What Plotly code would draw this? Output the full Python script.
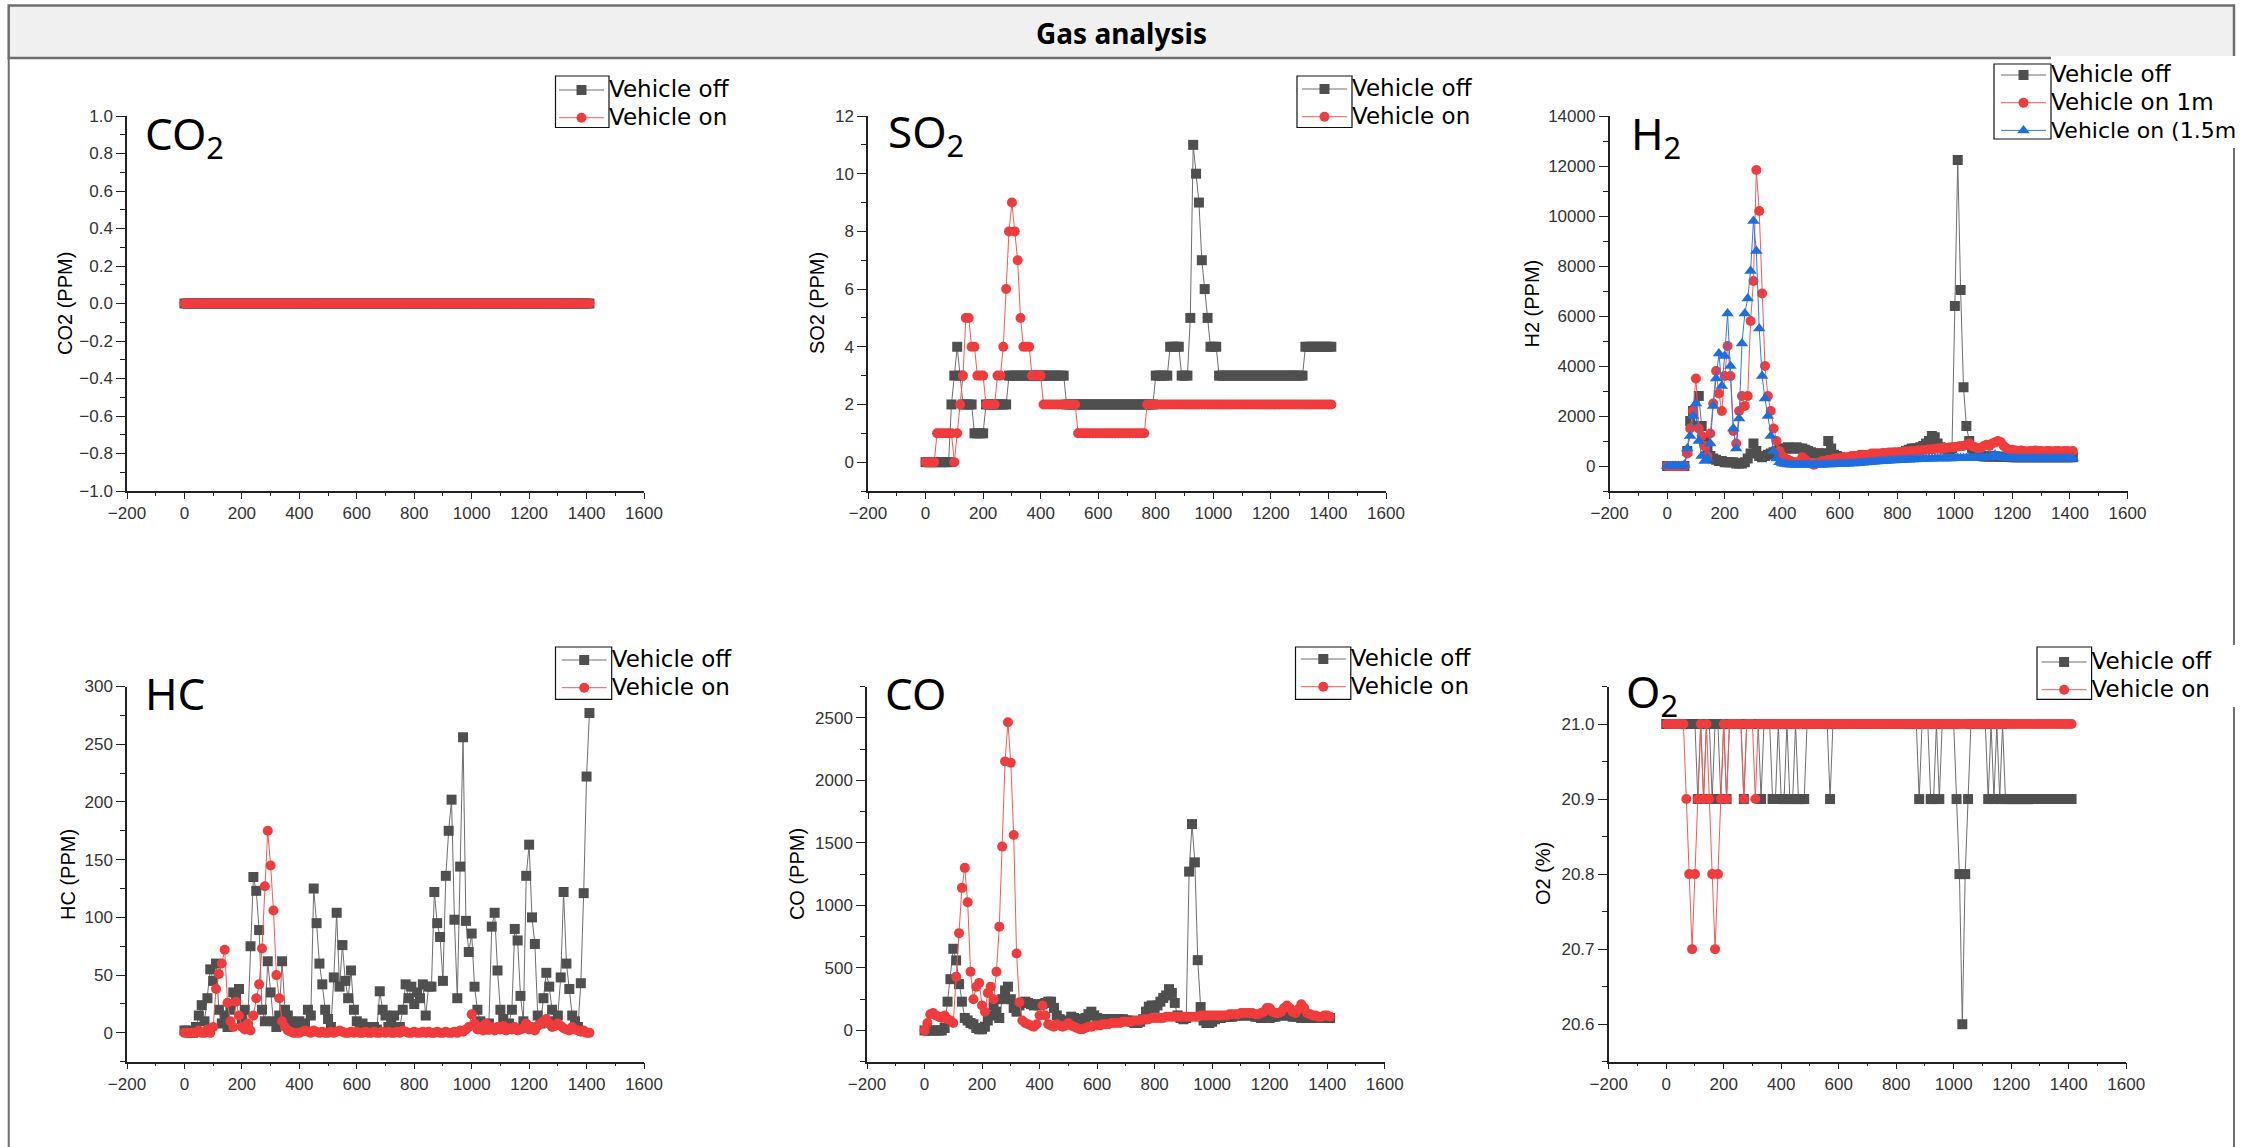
import plotly.graph_objects as go

W, H = 2244, 1147

# ---------------- data (sampled every 10 s, 0 .. 1410 s) ----------------
TIME = list(range(0, 1420, 10))

CO2_OFF = [
    0, 0, 0, 0, 0, 0, 0, 0, 0, 0,
    0, 0, 0, 0, 0, 0, 0, 0, 0, 0,
    0, 0, 0, 0, 0, 0, 0, 0, 0, 0,
    0, 0, 0, 0, 0, 0, 0, 0, 0, 0,
    0, 0, 0, 0, 0, 0, 0, 0, 0, 0,
    0, 0, 0, 0, 0, 0, 0, 0, 0, 0,
    0, 0, 0, 0, 0, 0, 0, 0, 0, 0,
    0, 0, 0, 0, 0, 0, 0, 0, 0, 0,
    0, 0, 0, 0, 0, 0, 0, 0, 0, 0,
    0, 0, 0, 0, 0, 0, 0, 0, 0, 0,
    0, 0, 0, 0, 0, 0, 0, 0, 0, 0,
    0, 0, 0, 0, 0, 0, 0, 0, 0, 0,
    0, 0, 0, 0, 0, 0, 0, 0, 0, 0,
    0, 0, 0, 0, 0, 0, 0, 0, 0, 0,
    0, 0]
CO2_ON = [
    0, 0, 0, 0, 0, 0, 0, 0, 0, 0,
    0, 0, 0, 0, 0, 0, 0, 0, 0, 0,
    0, 0, 0, 0, 0, 0, 0, 0, 0, 0,
    0, 0, 0, 0, 0, 0, 0, 0, 0, 0,
    0, 0, 0, 0, 0, 0, 0, 0, 0, 0,
    0, 0, 0, 0, 0, 0, 0, 0, 0, 0,
    0, 0, 0, 0, 0, 0, 0, 0, 0, 0,
    0, 0, 0, 0, 0, 0, 0, 0, 0, 0,
    0, 0, 0, 0, 0, 0, 0, 0, 0, 0,
    0, 0, 0, 0, 0, 0, 0, 0, 0, 0,
    0, 0, 0, 0, 0, 0, 0, 0, 0, 0,
    0, 0, 0, 0, 0, 0, 0, 0, 0, 0,
    0, 0, 0, 0, 0, 0, 0, 0, 0, 0,
    0, 0, 0, 0, 0, 0, 0, 0, 0, 0,
    0, 0]

SO2_OFF = [
    0, 0, 0, 0, 0, 0, 0, 0, 0, 2,
    3, 4, 3, 2, 2, 2, 2, 1, 1, 1,
    1, 2, 2, 2, 2, 2, 2, 2, 2, 3,
    3, 3, 3, 3, 3, 3, 3, 3, 3, 3,
    3, 3, 3, 3, 3, 3, 3, 3, 3, 2,
    2, 2, 2, 2, 2, 2, 2, 2, 2, 2,
    2, 2, 2, 2, 2, 2, 2, 2, 2, 2,
    2, 2, 2, 2, 2, 2, 2, 2, 2, 2,
    3, 3, 3, 3, 3, 4, 4, 4, 4, 3,
    3, 3, 5, 11, 10, 9, 7, 6, 5, 4,
    4, 4, 3, 3, 3, 3, 3, 3, 3, 3,
    3, 3, 3, 3, 3, 3, 3, 3, 3, 3,
    3, 3, 3, 3, 3, 3, 3, 3, 3, 3,
    3, 3, 4, 4, 4, 4, 4, 4, 4, 4,
    4, 4]
SO2_ON = [
    0, 0, 0, 0, 1, 1, 1, 1, 1, 1,
    0, 1, 2, 3, 5, 5, 4, 4, 3, 3,
    3, 2, 2, 2, 2, 3, 3, 4, 6, 8,
    9, 8, 7, 5, 4, 4, 4, 3, 3, 3,
    3, 2, 2, 2, 2, 2, 2, 2, 2, 2,
    2, 2, 2, 1, 1, 1, 1, 1, 1, 1,
    1, 1, 1, 1, 1, 1, 1, 1, 1, 1,
    1, 1, 1, 1, 1, 1, 1, 2, 2, 2,
    2, 2, 2, 2, 2, 2, 2, 2, 2, 2,
    2, 2, 2, 2, 2, 2, 2, 2, 2, 2,
    2, 2, 2, 2, 2, 2, 2, 2, 2, 2,
    2, 2, 2, 2, 2, 2, 2, 2, 2, 2,
    2, 2, 2, 2, 2, 2, 2, 2, 2, 2,
    2, 2, 2, 2, 2, 2, 2, 2, 2, 2,
    2, 2]

H2_OFF = [
    0, 0, 0, 0, 0, 0, 0, 600, 1800, 2200,
    1600, 2800, 1600, 1000, 600, 400, 300, 250, 200, 200,
    150, 150, 150, 150, 100, 100, 100, 150, 300, 500,
    900, 600, 400, 350, 400, 450, 500, 550, 600, 650,
    700, 700, 750, 700, 700, 750, 700, 700, 650, 600,
    550, 500, 500, 500, 500, 500, 1000, 700, 450, 400,
    350, 330, 320, 300, 300, 300, 300, 300, 300, 300,
    300, 300, 320, 320, 330, 340, 350, 350, 360, 380,
    450, 500, 550, 600, 650, 700, 700, 700, 750, 800,
    900, 1000, 1200, 1150, 900, 750, 700, 700, 650, 700,
    6400, 12240, 7040, 3150, 1600, 1000, 700, 550, 450, 400,
    380, 380, 380, 380, 380, 380, 360, 360, 360, 360,
    350, 350, 350, 350, 350, 350, 350, 350, 350, 350,
    350, 350, 350, 350, 350, 350, 350, 350, 350, 350,
    350, 350]
H2_ON_1M = [
    0, 0, 0, 0, 0, 0, 0, 500, 1500, 2200,
    3500, 1500, 1200, 800, 400, 1300, 2500, 3800, 2900, 2200,
    3600, 4800, 3600, 1400, 900, 2200, 2800, 2400, 2800, 5800,
    7400, 11840, 10200, 6900, 4000, 2800, 2200, 1500, 1000, 600,
    400, 300, 250, 200, 150, 150, 200, 350, 250, 150,
    100, 50, 100, 150, 200, 200, 250, 250, 300, 300,
    300, 350, 350, 350, 400, 400, 400, 450, 450, 450,
    450, 500, 500, 500, 500, 520, 520, 540, 540, 550,
    550, 560, 570, 580, 590, 600, 600, 620, 620, 640,
    650, 660, 670, 680, 700, 700, 720, 720, 740, 750,
    760, 780, 800, 800, 850, 900, 800, 750, 700, 720,
    800, 850, 800, 900, 950, 1000, 950, 800, 700, 650,
    650, 620, 600, 620, 600, 580, 600, 600, 620, 600,
    600, 580, 600, 600, 580, 600, 600, 580, 600, 600,
    580, 600]
H2_ON_15M = [
    0, 0, 0, 0, 0, 0, 50, 700, 1200, 2000,
    2500, 1000, 400, 200, 300, 900, 2400, 3500, 4500, 3200,
    4400, 6100, 4000, 1500, 700, 1900, 4900, 6100, 6700, 7800,
    9800, 8600, 5500, 3600, 2700, 2000, 1200, 600, 300, 150,
    100, 80, 60, 50, 50, 50, 50, 50, 50, 50,
    50, 50, 50, 50, 50, 60, 60, 60, 70, 70,
    80, 80, 90, 90, 100, 100, 110, 120, 130, 140,
    150, 160, 170, 180, 190, 200, 200, 210, 220, 220,
    230, 240, 240, 250, 250, 260, 260, 270, 270, 280,
    280, 290, 290, 300, 300, 300, 300, 300, 300, 300,
    320, 320, 320, 320, 320, 320, 320, 330, 330, 330,
    330, 340, 350, 400, 450, 400, 350, 330, 320, 320,
    300, 310, 300, 300, 310, 300, 300, 310, 300, 300,
    300, 310, 300, 300, 300, 310, 300, 300, 300, 300,
    300, 300]

HC_OFF = [
    2, 2, 0, 0, 5, 15, 24, 10, 30, 55,
    45, 60, 20, 8, 15, 5, 20, 35, 30, 38,
    12, 20, 5, 75, 135, 123, 89, 20, 10, 62,
    35, 10, 5, 15, 62, 20, 15, 10, 8, 5,
    10, 5, 8, 20, 15, 125, 95, 60, 42, 20,
    12, 5, 48, 104, 40, 76, 45, 30, 54, 20,
    10, 5, 8, 5, 3, 2, 5, 3, 36, 20,
    15, 5, 10, 15, 3, 5, 20, 42, 30, 40,
    25, 35, 30, 42, 15, 40, 40, 122, 95, 83,
    45, 136, 175, 202, 98, 30, 144, 256, 97, 70,
    86, 40, 20, 10, 5, 3, 8, 92, 104, 54,
    20, 12, 5, 8, 20, 90, 80, 32, 10, 136,
    163, 100, 77, 15, 8, 30, 52, 40, 20, 10,
    15, 48, 122, 60, 38, 15, 10, 5, 43, 121,
    222, 277]
HC_ON = [
    0, 0, 0, 0, 0, 2, 0, 0, 3, 0,
    5, 38, 51, 60, 72, 26, 10, 5, 27, 15,
    5, 3, 8, 2, 15, 30, 42, 73, 127, 175,
    145, 106, 50, 30, 10, 5, 2, 1, 0, 0,
    0, 1, 2, 1, 0, 2, 1, 0, 1, 0,
    0, 1, 0, 1, 2, 1, 0, 0, 1, 0,
    1, 0, 0, 1, 0, 0, 1, 0, 0, 1,
    0, 1, 0, 0, 1, 0, 2, 1, 0, 0,
    1, 0, 0, 1, 0, 1, 0, 0, 1, 0,
    0, 1, 0, 0, 1, 0, 2, 1, 3, 5,
    16, 8, 3, 5, 2, 8, 3, 5, 2, 5,
    3, 6, 2, 4, 3, 5, 2, 3, 4, 8,
    3, 5, 2, 6, 8, 10, 12, 8, 5, 6,
    8, 6, 4, 3, 2, 5, 3, 2, 1, 2,
    0, 0]

CO_OFF = [
    0, 0, 0, 0, 0, 0, 0, 20, 230, 410,
    653, 560, 370, 230, 100, 80, 60, 50, 20, 10,
    10, 30, 80, 120, 200, 150, 100, 250, 320, 350,
    250, 180, 150, 200, 220, 230, 220, 210, 200, 210,
    200, 210, 220, 230, 230, 180, 120, 90, 70, 60,
    80, 110, 100, 90, 80, 90, 100, 130, 150, 120,
    100, 90, 90, 90, 90, 90, 90, 90, 90, 90,
    80, 80, 70, 60, 60, 70, 90, 150, 190, 200,
    180, 200, 230, 260, 280, 330, 300, 220, 120, 100,
    90, 100, 1270, 1650, 1344, 562, 187, 80, 60, 60,
    70, 90, 100, 100, 110, 110, 110, 110, 120, 120,
    120, 120, 130, 120, 120, 110, 110, 100, 100, 100,
    100, 110, 110, 120, 120, 130, 120, 120, 110, 110,
    110, 100, 100, 110, 100, 100, 100, 100, 100, 100,
    100, 100]
CO_ON = [
    0, 60, 130, 140, 120, 110, 100, 120, 90, 80,
    60, 430, 778, 1140, 1300, 1025, 470, 250, 350, 380,
    200, 150, 300, 350, 250, 470, 830, 1470, 2151, 2464,
    2140, 1563, 615, 225, 80, 60, 50, 40, 30, 50,
    120, 200, 120, 50, 40, 30, 50, 40, 30, 40,
    60, 40, 30, 20, 10, 10, 20, 30, 30, 40,
    40, 40, 50, 50, 50, 60, 60, 60, 60, 70,
    70, 70, 70, 80, 80, 80, 90, 90, 90, 100,
    100, 100, 100, 100, 110, 110, 110, 110, 110, 110,
    110, 110, 110, 110, 110, 110, 120, 120, 120, 120,
    120, 120, 120, 120, 120, 120, 130, 130, 130, 130,
    140, 140, 140, 140, 140, 130, 130, 140, 150, 180,
    180, 150, 140, 140, 150, 180, 200, 180, 150, 140,
    170, 210, 180, 140, 130, 120, 120, 110, 110, 120,
    120, 110]

O2_OFF = [
    21.0, 21.0, 21.0, 21.0, 21.0, 21.0, 21.0, 21.0, 21.0, 21.0,
    21.0, 20.9, 21.0, 20.9, 21.0, 21.0, 20.9, 21.0, 21.0, 20.9,
    21.0, 20.9, 21.0, 21.0, 21.0, 21.0, 21.0, 20.9, 21.0, 21.0,
    21.0, 21.0, 21.0, 20.9, 21.0, 21.0, 21.0, 20.9, 20.9, 21.0,
    20.9, 20.9, 21.0, 20.9, 20.9, 21.0, 20.9, 20.9, 20.9, 21.0,
    21.0, 21.0, 21.0, 21.0, 21.0, 21.0, 21.0, 20.9, 21.0, 21.0,
    21.0, 21.0, 21.0, 21.0, 21.0, 21.0, 21.0, 21.0, 21.0, 21.0,
    21.0, 21.0, 21.0, 21.0, 21.0, 21.0, 21.0, 21.0, 21.0, 21.0,
    21.0, 21.0, 21.0, 21.0, 21.0, 21.0, 21.0, 21.0, 20.9, 21.0,
    21.0, 21.0, 20.9, 20.9, 21.0, 20.9, 21.0, 21.0, 21.0, 21.0,
    21.0, 20.9, 20.8, 20.6, 20.8, 20.9, 21.0, 21.0, 21.0, 21.0,
    21.0, 21.0, 20.9, 21.0, 20.9, 21.0, 20.9, 21.0, 20.9, 20.9,
    20.9, 20.9, 20.9, 20.9, 20.9, 20.9, 20.9, 20.9, 20.9, 20.9,
    20.9, 20.9, 20.9, 20.9, 20.9, 20.9, 20.9, 20.9, 20.9, 20.9,
    20.9, 20.9]
O2_ON = [
    21.0, 21.0, 21.0, 21.0, 21.0, 21.0, 21.0, 20.9, 20.8, 20.7,
    20.8, 20.9, 21.0, 20.9, 21.0, 20.9, 20.8, 20.7, 20.8, 20.9,
    21.0, 20.9, 21.0, 21.0, 21.0, 21.0, 21.0, 20.9, 21.0, 21.0,
    21.0, 20.9, 21.0, 21.0, 21.0, 21.0, 21.0, 21.0, 21.0, 21.0,
    21.0, 21.0, 21.0, 21.0, 21.0, 21.0, 21.0, 21.0, 21.0, 21.0,
    21.0, 21.0, 21.0, 21.0, 21.0, 21.0, 21.0, 21.0, 21.0, 21.0,
    21.0, 21.0, 21.0, 21.0, 21.0, 21.0, 21.0, 21.0, 21.0, 21.0,
    21.0, 21.0, 21.0, 21.0, 21.0, 21.0, 21.0, 21.0, 21.0, 21.0,
    21.0, 21.0, 21.0, 21.0, 21.0, 21.0, 21.0, 21.0, 21.0, 21.0,
    21.0, 21.0, 21.0, 21.0, 21.0, 21.0, 21.0, 21.0, 21.0, 21.0,
    21.0, 21.0, 21.0, 21.0, 21.0, 21.0, 21.0, 21.0, 21.0, 21.0,
    21.0, 21.0, 21.0, 21.0, 21.0, 21.0, 21.0, 21.0, 21.0, 21.0,
    21.0, 21.0, 21.0, 21.0, 21.0, 21.0, 21.0, 21.0, 21.0, 21.0,
    21.0, 21.0, 21.0, 21.0, 21.0, 21.0, 21.0, 21.0, 21.0, 21.0,
    21.0, 21.0]

TITLE = "Gas analysis"
LABEL_OFF = "Vehicle off"
LABEL_ON = "Vehicle on"
LABEL_ON_1M = "Vehicle on 1m"
LABEL_ON_15M = "Vehicle on (1.5m"   # as visible in the source figure (cut at the edge)

# ---------------- styling ----------------
GRAY, GRAY_LINE = "#4f4f4f", "#6e6e6e"
RED, RED_LINE = "#f03c3c", "#f35a5a"
BLUE, BLUE_LINE = "#1c6fde", "#2f7be4"
TICK_FONT = dict(family="Liberation Sans", size=17, color="#333333")
LEG_TEXT_PX = 23


def fx(p):
    return p / W


def fy(p):
    return 1 - p / H


def leg_name(s, size=LEG_TEXT_PX):
    return '<span style="font-size:%gpx">%s</span>' % (size, s)


# (left, right, top, bottom) in pixels
BOXES = [
    (127, 644, 116, 491),
    (868, 1386, 116, 491),
    (1609.6, 2127.5, 116, 491),
    (127, 644, 686.5, 1061.7),
    (867, 1384.7, 686.5, 1061.7),
    (1608.7, 2126.2, 686.5, 1061.7),
]

PANELS = [
    dict(label="CO<sub>2</sub>", ytitle="CO2 (PPM)", yrange=[-1, 1], tick0=-1, dtick=0.2, mdtick=0.1,
         fmt=".1f", series=[(LABEL_OFF, CO2_OFF, "off"), (LABEL_ON, CO2_ON, "on")],
         tshift=61.5, lab=(144.5, 116), leg=(555.5, 76, 609, 127.5, 90)),
    dict(label="SO<sub>2</sub>", ytitle="SO2 (PPM)", yrange=[-1, 12], tick0=0, dtick=2, mdtick=1,
         fmt="d", series=[(LABEL_OFF, SO2_OFF, "off"), (LABEL_ON, SO2_ON, "on")],
         tshift=50.4, lab=(887.8, 114), leg=(1297, 76, 1352, 127.5, 89)),
    dict(label="H<sub>2</sub>", ytitle="H2 (PPM)", yrange=[-1000, 14000], tick0=0, dtick=2000, mdtick=1000,
         fmt="d", series=[(LABEL_OFF, H2_OFF, "off"), (LABEL_ON_1M, H2_ON_1M, "on"),
                          (LABEL_ON_15M, H2_ON_15M, "on15")],
         tshift=77.6, lab=(1631, 116), leg=(1994, 64, 2051, 139, 75)),
    dict(label="HC", ytitle="HC (PPM)", yrange=[-25, 300], tick0=0, dtick=50, mdtick=25,
         fmt="d", series=[(LABEL_OFF, HC_OFF, "off"), (LABEL_ON, HC_ON, "on")],
         tshift=59.1, lab=(145.4, 676), leg=(555.5, 647, 611.7, 699.3, 660)),
    dict(label="CO", ytitle="CO (PPM)", yrange=[-250, 2750], tick0=0, dtick=500, mdtick=250,
         fmt="d", series=[(LABEL_OFF, CO_OFF, "off"), (LABEL_ON, CO_ON, "on")],
         tshift=70, lab=(885.4, 676), leg=(1295.5, 647, 1350.8, 699.3, 659)),
    dict(label="O<sub>2</sub>", ytitle="O2 (%)", yrange=[20.55, 21.05], tick0=20.6, dtick=0.1, mdtick=0.05,
         fmt=".1f", series=[(LABEL_OFF, O2_OFF, "off"), (LABEL_ON, O2_ON, "on")],
         tshift=65.7, lab=(1626, 674), leg=(2037, 647, 2091.6, 699.3, 662)),
]

STYLE = {
    "off": dict(color=GRAY, line=GRAY_LINE, symbol="square", size=10),
    "on": dict(color=RED, line=RED_LINE, symbol="circle", size=10),
    "on15": dict(color=BLUE, line=BLUE_LINE, symbol="triangle-up", size=11),
}

fig = go.Figure()
layout = dict(
    width=W, height=H,
    margin=dict(l=0, r=0, t=0, b=0, autoexpand=False),
    paper_bgcolor="white", plot_bgcolor="white",
    showlegend=True,
)
annotations = []
shapes = []

# frame / title bar
shapes.append(dict(type="rect", xref="paper", yref="paper", x0=fx(8.7), x1=fx(2234), y0=fy(58), y1=fy(5.4),
                   fillcolor="#f0f0f0", line=dict(color="#6f6f6f", width=2.5), layer="below"))
shapes.append(dict(type="line", xref="paper", yref="paper", x0=fx(8.7), x1=fx(8.7), y0=fy(58), y1=0,
                   line=dict(color="#6f6f6f", width=2)))
shapes.append(dict(type="line", xref="paper", yref="paper", x0=fx(2234), x1=fx(2234), y0=fy(58), y1=0,
                   line=dict(color="#6f6f6f", width=2)))
# white areas behind the overflowing legend texts
shapes.append(dict(type="rect", xref="paper", yref="paper", x0=fx(2051), x1=1, y0=fy(148), y1=fy(56),
                   fillcolor="white", line=dict(width=0)))
shapes.append(dict(type="rect", xref="paper", yref="paper", x0=fx(2222), x1=1, y0=fy(707), y1=fy(645),
                   fillcolor="white", line=dict(width=0)))

annotations.append(dict(text="<b>" + TITLE + "</b>", xref="paper", yref="paper", x=fx(1121), y=fy(32.7),
                        xanchor="center", yanchor="middle", showarrow=False,
                        font=dict(family="Noto Sans", size=28, color="black")))

LEG_FONT = 19
LEG_ITEM_H = LEG_FONT * 1.3 + 3

for i, (p, box) in enumerate(zip(PANELS, BOXES)):
    n = i + 1
    sfx = "" if n == 1 else str(n)
    left, right, top, bottom = box
    xa, ya = "x" + sfx, "y" + sfx
    legname = "legend" + sfx
    layout["xaxis" + sfx] = dict(
        domain=[fx(left), fx(right)], anchor=ya, range=[-200, 1600], tick0=0, dtick=200,
        ticks="outside", ticklen=6, tickwidth=1.3, tickcolor="#222222",
        showline=True, linecolor="#222222", linewidth=1.5, showgrid=False, zeroline=False,
        tickfont=TICK_FONT, tickformat="d",
        minor=dict(tick0=0, dtick=100, ticks="outside", ticklen=3, tickwidth=1.2, tickcolor="#222222",
                   showgrid=False),
    )
    layout["yaxis" + sfx] = dict(
        domain=[fy(bottom), fy(top)], anchor=xa, range=p["yrange"], tick0=p["tick0"], dtick=p["dtick"],
        ticks="outside", ticklen=9, tickwidth=1.3, tickcolor="#222222",
        showline=True, linecolor="#222222", linewidth=1.5, showgrid=False, zeroline=False,
        tickfont=TICK_FONT, tickformat=p["fmt"],
        minor=dict(tick0=p["tick0"], dtick=p["mdtick"], ticks="outside", ticklen=5, tickwidth=1.2,
                   tickcolor="#222222", showgrid=False),
    )
    for name, vals, kind in p["series"]:
        st = STYLE[kind]
        size = 22 if name == LABEL_ON_15M else LEG_TEXT_PX
        fig.add_trace(go.Scatter(
            x=TIME, y=vals, name=leg_name(name, size), mode="lines+markers", xaxis=xa, yaxis=ya,
            legend=legname,
            line=dict(color=st["line"], width=1),
            marker=dict(color=st["color"], symbol=st["symbol"], size=st["size"], line=dict(width=0)),
        ))
    # legend
    l0, t0, r0, b0, first_c = p["leg"]
    layout[legname] = dict(
        x=fx(r0 - 55), y=fy(first_c - 5 - LEG_ITEM_H / 2), xanchor="left", yanchor="top",
        bgcolor="rgba(0,0,0,0)", borderwidth=0, itemwidth=45, tracegroupgap=0,
        font=dict(family="DejaVu Sans", size=LEG_FONT, color="black"),
    )
    shapes.append(dict(type="rect", xref="paper", yref="paper", x0=fx(l0), x1=fx(r0), y0=fy(b0), y1=fy(t0),
                       line=dict(color="#111111", width=1.2), fillcolor="rgba(0,0,0,0)"))
    # big gas label
    lx, ly = p["lab"]
    annotations.append(dict(text=p["label"], xref="paper", yref="paper", x=fx(lx - 2), y=fy(ly - 15),
                            xanchor="left", yanchor="top", showarrow=False,
                            font=dict(family="Noto Sans", size=44, color="black")))
    # y-axis title
    annotations.append(dict(text=p["ytitle"], xref="paper", yref="paper", x=fx(left - p["tshift"]),
                            y=fy((top + bottom) / 2), xanchor="center", yanchor="middle", textangle=-90,
                            showarrow=False, font=dict(family="Liberation Sans", size=20, color="black")))

layout["annotations"] = annotations
layout["shapes"] = shapes
fig.update_layout(**layout)
fig.write_html("out.html")
